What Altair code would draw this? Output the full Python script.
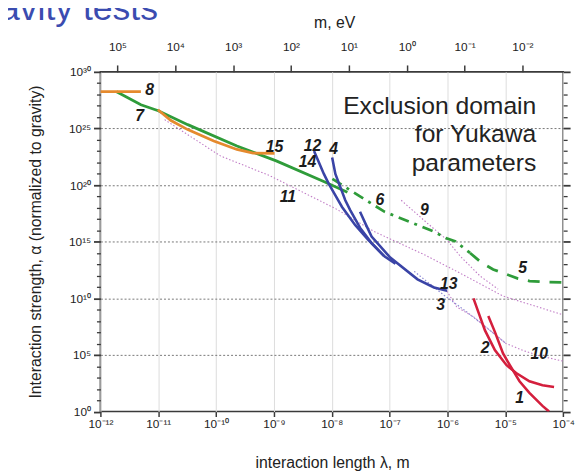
import altair as alt
import pandas as pd

HBARC = 1.973e-7  # eV*m, converts boson mass to interaction length

# ---- curves: log10(lambda / m) and log10(alpha) ----
c8_x = [-12.0, -11.30]
c8_y = [28.25, 28.25]
c7_x = [-11.72, -11.30, -11.0, -10.49, -9.64, -8.96, -8.11, -7.73]
c7_y = [28.25, 27.09, 26.57, 25.34, 23.45, 22.14, 20.25, 19.36]
c15_x = [-11.006, -10.78, -10.49, -10.04, -9.64, -9.36, -8.99]
c15_y = [26.65, 25.70, 24.90, 23.90, 23.15, 22.82, 22.80]
c6_x = [-7.99, -7.54, -7.085, -6.23, -6.03, -5.86, -5.61]
c6_y = [20.55, 19.09, 17.64, 15.89, 15.32, 15.02, 14.01]
c5_x = [-5.61, -5.41, -5.21, -4.98, -4.78, -4.58, -4.36, -4.0]
c5_y = [14.01, 13.14, 12.55, 12.12, 11.74, 11.53, 11.45, 11.40]
c12_x = [-8.307, -8.222, -8.137, -8.052, -7.938, -7.823, -7.597, -7.37, -7.085, -6.9]
c12_y = [23.02, 22.0, 20.99, 20.11, 19.09, 18.07, 16.48, 15.17, 13.69, 13.05]
c4_x = [-7.994, -7.938, -7.852, -7.767, -7.682, -7.51, -7.312, -7.1]
c4_y = [22.43, 20.99, 19.82, 18.66, 17.79, 16.22, 14.88, 13.75]
c13_x = [-7.512, -7.40, -7.312, -6.99, -6.518, -6.233, -6.006]
c13_y = [17.64, 16.4, 15.46, 13.6, 11.68, 10.96, 10.66]
c2_x = [-5.551, -5.466, -5.352, -5.181, -4.983, -4.813, -4.584, -4.358, -4.158]
c2_y = [10.0, 8.78, 7.17, 5.43, 4.12, 3.40, 2.68, 2.33, 2.18]
c1_x = [-5.295, -5.181, -5.04, -4.925, -4.755, -4.584, -4.358, -4.244]
c1_y = [8.43, 7.04, 5.14, 4.12, 2.68, 1.66, 0.50, 0.0]
c11_x = [-10.89, -9.927, -9.075, -7.938, -7.256, -6.403, -5.84, -5.04, -4.0]
c11_y = [25.78, 22.58, 20.84, 17.93, 15.87, 13.86, 12.38, 10.2, 8.54]
c9_x = [-6.80, -6.352, -6.011, -5.778, -5.437, -5.125]
c9_y = [18.66, 16.65, 15.17, 13.71, 11.97, 10.81]
c10_x = [-6.011, -5.84, -5.551, -4.99, -4.70, -4.44, -4.0]
c10_y = [10.64, 9.24, 8.37, 6.02, 5.41, 4.97, 4.45]
c3_x = [-6.575, -6.064, -5.67, -5.26, -4.99]
c3_y = [12.38, 10.29, 8.81, 7.15, 6.02]

# ---- curve number labels ----
label_text = ["8", "7", "15", "12", "14", "4", "11", "6", "9", "5", "13", "3", "2", "10", "1"]
label_x = [-11.15, -11.32, -8.99, -8.335, -8.42, -7.967, -8.76, -7.17, -6.40, -4.70, -5.977, -6.12, -5.35, -4.414, -4.755]
label_y = [28.4, 26.07, 23.37, 23.45, 22.0, 23.17, 18.95, 18.66, 17.79, 12.70, 11.25, 9.42, 5.58, 5.06, 1.22]

# ---- axes ----
x_exponents = [-12, -11, -10, -9, -8, -7, -6, -5, -4]
x_tick_labels = ["10⁻¹²", "10⁻¹¹", "10⁻¹⁰", "10⁻⁹", "10⁻⁸", "10⁻⁷", "10⁻⁶", "10⁻⁵", "10⁻⁴"]
m_exponents = [5, 4, 3, 2, 1, 0, -1, -2]
m_tick_labels = ["10⁵", "10⁴", "10³", "10²", "10¹", "10⁰", "10⁻¹", "10⁻²"]
y_major_exponents = [0, 5, 10, 15, 20, 25, 30]
y_tick_labels = ["10⁰", "10⁵", "10¹⁰", "10¹⁵", "10²⁰", "10²⁵", "10³⁰"]

x_values = [10.0 ** e for e in x_exponents]
m_values = [HBARC / 10.0 ** e for e in m_exponents]
y_values = [10.0 ** e for e in range(0, 31)]

FONT = "Liberation Sans"
xscale = alt.Scale(type="log", domain=[1e-12, 1e-4], nice=False)
yscale = alt.Scale(type="log", domain=[1, 1e30], nice=False)


def curve_df(name, xs, ys):
    return pd.DataFrame({
        "curve": name,
        "lam": [10.0 ** v for v in xs],
        "alpha": [10.0 ** v for v in ys],
        "order": list(range(len(xs))),
    })


def line_layer(frames, color, width, dash=None):
    df = pd.concat(frames, ignore_index=True)
    kw = dict(color=color, strokeWidth=width, clip=True, strokeCap="butt")
    if dash:
        kw["strokeDash"] = dash
    return alt.Chart(df).mark_line(**kw).encode(
        x=alt.X("lam:Q", scale=xscale, axis=None),
        y=alt.Y("alpha:Q", scale=yscale, axis=None),
        detail="curve:N",
        order="order:Q",
    )


exp_expr = "round(log(datum.value)/LN10)"
major_test = f"{exp_expr} % 5 == 0"
grid_test = f"{exp_expr} % 5 == 0 && datum.value > 2 && datum.value < 1e29"
y_label_expr = (
    f"{major_test} ? " + str(y_tick_labels) + f"[{exp_expr}/5] : ''"
)
x_label_expr = str(x_tick_labels) + f"[{exp_expr}+12]"
m_label_expr = str(m_tick_labels) + f"[5 - round(log({HBARC}/datum.value)/LN10)]"

frame_df = pd.DataFrame({"lam": [1e-12, 1e-4], "alpha": [1.0, 1e30]})

axes_a = alt.Chart(frame_df).mark_point(opacity=0).encode(
    x=alt.X("lam:Q", scale=xscale, axis=alt.Axis(
        orient="bottom", values=x_values, labelExpr=x_label_expr,
        title="interaction length λ, m", titleFontSize=16, titleFontWeight="normal",
        titleX=235, titleY=57, titleBaseline="alphabetic", titleColor="#222",
        grid=True, gridColor="#dcdcdc", gridWidth=1,
        tickSize=5, tickWidth=1.5, labelPadding=2, labelFontSize=12, labelFlush=False,
        labelOverlap=False, domain=False)),
    y=alt.Y("alpha:Q", scale=yscale, axis=alt.Axis(
        orient="left", values=y_values, labelExpr=y_label_expr,
        title="Interaction strength, α (normalized to gravity)", titleFontSize=16,
        titleFontWeight="normal", titleX=-66, titleY=172, titleBaseline="middle",
        titleColor="#222",
        grid=True, gridColor="#777", gridDash=[2, 2], gridWidth=1,
        gridOpacity={"condition": {"test": grid_test, "value": 1}, "value": 0},
        tickSize={"condition": {"test": major_test, "value": 7}, "value": 4},
        tickWidth={"condition": {"test": major_test, "value": 1.8}, "value": 1.3},
        labelPadding=3, labelFontSize=12, labelFlush=False, labelOverlap=False,
        domain=False)),
)

axes_b = alt.Chart(frame_df).mark_point(opacity=0).encode(
    x=alt.X("lam:Q", scale=xscale, axis=alt.Axis(
        orient="top", values=m_values, labelExpr=m_label_expr,
        title="m, eV", titleFontSize=16, titleFontWeight="normal",
        titleX=237, titleY=-44.5, titleBaseline="alphabetic", titleColor="#222",
        grid=False, tickSize=7, tickWidth=1.5, labelPadding=12, labelFontSize=12,
        labelFlush=False, labelOverlap=False, domain=False)),
    y=alt.Y("alpha:Q", scale=yscale, axis=alt.Axis(
        orient="right", values=y_values, labels=False, title=None, grid=False,
        tickSize={"condition": {"test": major_test, "value": 7}, "value": 4},
        tickWidth={"condition": {"test": major_test, "value": 1.8}, "value": 1.3},
        domain=False)),
)

ORANGE = "#e58a2e"
GREEN = "#2f9c3a"
BLUE = "#3a44a6"
RED = "#d41f3d"
PINK = "#c07cc6"
LILAC = "#8a86d2"

lines = [
    line_layer([curve_df("11", c11_x, c11_y), curve_df("9", c9_x, c9_y),
                curve_df("10", c10_x, c10_y)], PINK, 1.1, [1.5, 2]),
    line_layer([curve_df("3", c3_x, c3_y)], LILAC, 1.2, [1.5, 2]),
    line_layer([curve_df("7", c7_x, c7_y)], GREEN, 2.8),
    line_layer([curve_df("8", c8_x, c8_y), curve_df("15", c15_x, c15_y)], ORANGE, 2.8),
    line_layer([curve_df("6", c6_x, c6_y)], GREEN, 2.8, [11, 6, 3, 6]),
    line_layer([curve_df("5", c5_x, c5_y)], GREEN, 2.8, [12, 10]),
    line_layer([curve_df("12", c12_x, c12_y), curve_df("4", c4_x, c4_y),
                curve_df("13", c13_x, c13_y)], BLUE, 2.6),
    line_layer([curve_df("2", c2_x, c2_y), curve_df("1", c1_x, c1_y)], RED, 2.6),
]

labels_df = pd.DataFrame({
    "label": label_text,
    "lam": [10.0 ** v for v in label_x],
    "alpha": [10.0 ** v for v in label_y],
})
labels = alt.Chart(labels_df).mark_text(
    font=FONT, fontSize=16, fontStyle="italic", fontWeight="bold", color="#1b1b1b",
    align="center", baseline="middle",
).encode(
    x=alt.X("lam:Q", scale=xscale, axis=None),
    y=alt.Y("alpha:Q", scale=yscale, axis=None),
    text="label:N",
)

note = alt.Chart(pd.DataFrame({"t": ["Exclusion domain\nfor Yukawa\nparameters"]})).mark_text(
    font=FONT, fontSize=25, color="#222", align="right", baseline="alphabetic",
    lineBreak="\n", lineHeight=29,
).encode(text="t:N", x=alt.value(442), y=alt.value(42.5))

title = alt.Chart(pd.DataFrame({"t": ["Gravity tests"]})).mark_text(
    font=FONT, fontSize=36, color="#3b4cb0", align="left", baseline="alphabetic",
).encode(text="t:N", x=alt.value(-141.7), y=alt.value(-52.5))

chart = alt.layer(axes_a, axes_b, *lines, labels, note, title).resolve_axis(
    x="independent", y="independent"
).properties(
    width=469.3, height=344.5,
    autosize=alt.AutoSizeParams(type="none"),
    padding={"left": 93.7, "top": 61.5, "right": 14, "bottom": 57},
    background="white",
).configure_view(
    stroke="#3a3a3a", strokeWidth=1.6
).configure_axis(
    labelFont=FONT, titleFont=FONT, labelColor="#222", tickColor="#3a3a3a",
)

chart.save("out.html", embed_options={"renderer": "svg", "actions": False})
